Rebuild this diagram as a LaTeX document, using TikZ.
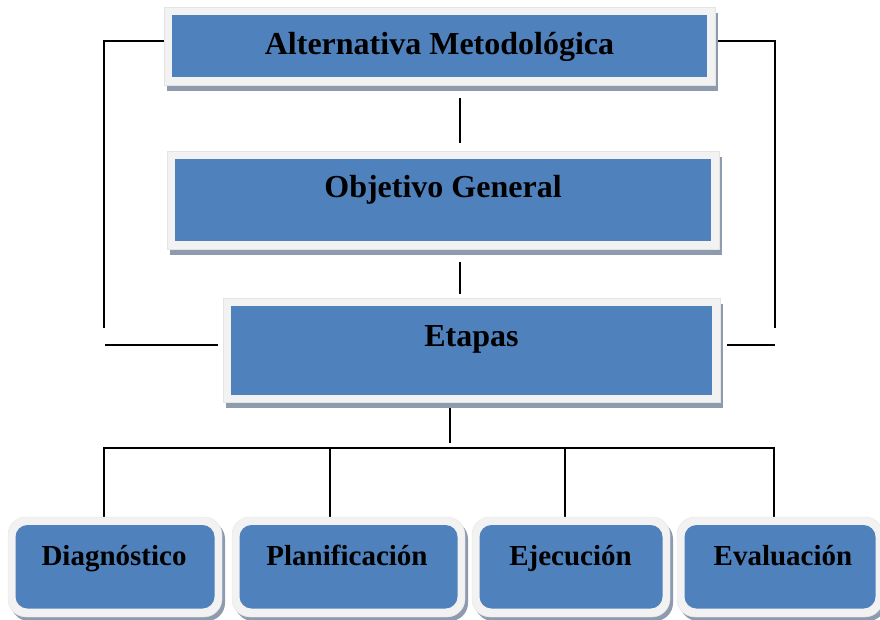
\documentclass[tikz,border=0pt]{standalone}
\usepackage{fontspec}
\setmainfont{Liberation Serif}
\usetikzlibrary{shadows}
\definecolor{boxblue}{HTML}{4F81BD}
\definecolor{framegray}{HTML}{F2F2F2}
\definecolor{framedge}{HTML}{E4E4E4}
\definecolor{shadowgray}{HTML}{8E9BAE}
\tikzset{
  sqbox/.style={draw=framedge, line width=0.4pt, fill=framegray, inner sep=0pt,
    drop shadow={shadow xshift=3pt, shadow yshift=-6pt, fill=shadowgray, opacity=1},
    path picture={\fill[boxblue] ([shift={(8pt,7.5pt)}]path picture bounding box.south west)
      rectangle ([shift={(-8pt,-8pt)}]path picture bounding box.north east);}},
  rdbox/.style={draw=framedge, line width=0.4pt, fill=framegray, inner sep=0pt, rounded corners=18pt,
    drop shadow={shadow xshift=3pt, shadow yshift=-4pt, fill=shadowgray, opacity=1},
    path picture={\fill[boxblue, rounded corners=12pt] ([shift={(7.5pt,8.5pt)}]path picture bounding box.south west)
      rectangle ([shift={(-7.5pt,-8pt)}]path picture bounding box.north east);}},
  bigtxt/.style={font=\bfseries\fontsize{32}{38}\selectfont, inner sep=0pt, anchor=base},
  smalltxt/.style={font=\bfseries\fontsize{29}{34}\selectfont, inner sep=0pt, anchor=base},
  conn/.style={draw=black, line width=1.6pt}
}
\begin{document}
\begin{tikzpicture}[x=1pt,y=-1pt]
\useasboundingbox (0,0) rectangle (880,620);
% coordinates for free ends
\coordinate (cLtop) at (104,327);
\coordinate (cRtop) at (775,327);
\coordinate (cLmid) at (105,345);
\coordinate (cRmid) at (775,345);
\coordinate (bus) at (450,448);

% connectors (drawn first)
\node[minimum width=551pt, minimum height=78pt, inner sep=0pt] (p1) at (439.5,46) {};
\node[minimum width=552pt, minimum height=98pt, inner sep=0pt] (p2) at (443,200) {};
\node[minimum width=497pt, minimum height=104pt, inner sep=0pt] (p3) at (471.5,350) {};
\node[minimum width=214pt, minimum height=100pt, inner sep=0pt] (pd) at (115,567) {};
\node[minimum width=233pt, minimum height=100pt, inner sep=0pt] (pp) at (348.5,567) {};
\node[minimum width=198pt, minimum height=100pt, inner sep=0pt] (pe) at (571,567) {};
\node[minimum width=206pt, minimum height=100pt, inner sep=0pt] (pv) at (780,567) {};

\draw[conn, line cap=rect] ([yshift=5pt]p1.west) -| (cLtop);
\draw[conn, line cap=rect] ([yshift=5pt]p1.east) -| (cRtop);
\draw[conn] ([xshift=-5pt,yshift=5pt]p3.west) -- (cLmid);
\draw[conn] ([xshift=7pt,yshift=5pt]p3.east) -- (cRmid);
\draw[conn, shorten <=13pt, shorten >=8pt] ([xshift=20.5pt]p1.south) -- ([xshift=20.5pt]p1.south |- p2.north);
\draw[conn, shorten <=13pt, shorten >=4pt] ([xshift=17pt]p2.south) -- ([xshift=17pt]p2.south |- p3.north);
\draw[conn, shorten <=5pt, shorten >=5pt] (p3.south -| bus) -- (bus);
\draw[conn] ([xshift=-11pt]pd.north) -- ([xshift=-11pt]pd.north |- bus) -- ([xshift=-6pt]pv.north |- bus) -- ([xshift=-6pt]pv.north);
\draw[conn] ([xshift=-18.5pt]pp.north) -- ([xshift=-18.5pt]pp.north |- bus);
\draw[conn] ([xshift=-6pt]pe.north) -- ([xshift=-6pt]pe.north |- bus);

% boxes
\node[sqbox, minimum width=551pt, minimum height=78pt] (b1) at (p1) {};
\node[sqbox, minimum width=552pt, minimum height=98pt] (b2) at (p2) {};
\node[sqbox, minimum width=497pt, minimum height=104pt] (b3) at (p3) {};
\node[rdbox, minimum width=214pt, minimum height=100pt] (bd) at (pd) {};
\node[rdbox, minimum width=233pt, minimum height=100pt] (bp) at (pp) {};
\node[rdbox, minimum width=198pt, minimum height=100pt] (be) at (pe) {};
\node[rdbox, minimum width=206pt, minimum height=100pt] (bv) at (pv) {};

% texts
\node[bigtxt] (t1) at (439.5,55) {Alternativa Metodológica};
\node[bigtxt] (t2) at (443,198) {Objetivo General};
\node[bigtxt] (t3) at (471.5,346) {Etapas};
\node[smalltxt] (td) at (114,565) {Diagnóstico};
\node[smalltxt] (tp) at (347,565) {Planificación};
\node[smalltxt] (te) at (570.5,565) {Ejecución};
\node[smalltxt] (tv) at (783,565) {Evaluación};
\end{tikzpicture}
\end{document}
